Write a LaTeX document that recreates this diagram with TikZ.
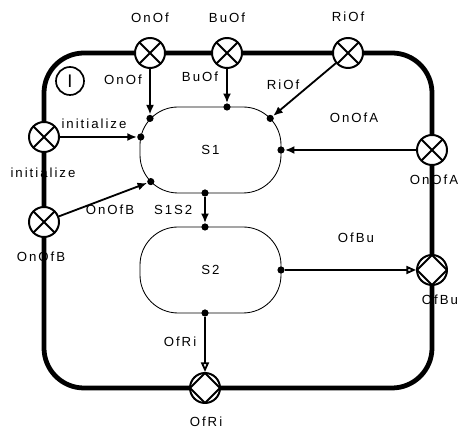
\documentclass[tikz,border=0pt]{standalone}
\usepackage{fontspec}
\setmainfont[LetterSpace=15]{Liberation Sans}
\usetikzlibrary{positioning,arrows.meta}
\tikzset{
  framebox/.style={draw, rounded corners=1cm, line width=3.4pt, minimum width=9.7cm, minimum height=8.375cm},
  statebox/.style={draw, rounded corners=0.95cm, line width=0.6pt, minimum width=3.525cm, minimum height=2.15cm, font=\fontsize{9.4}{11}\selectfont},
  portx/.style={draw, circle, line width=1.4pt, fill=white, minimum size=0.75cm, inner sep=0pt,
    path picture={\draw[line width=1.4pt] (path picture bounding box.north west) -- (path picture bounding box.south east)
      (path picture bounding box.north east) -- (path picture bounding box.south west);}},
  portd/.style={draw, circle, line width=1.4pt, fill=white, minimum size=0.75cm, inner sep=0pt,
    path picture={\draw[line width=1.4pt] (path picture bounding box.north) -- (path picture bounding box.east)
      -- (path picture bounding box.south) -- (path picture bounding box.west) -- cycle;}},
  dotnode/.style={circle, fill, inner sep=0pt, minimum size=0.18cm},
  inarrow/.style={-{Latex[length=2.4mm, width=2mm]}, line width=1.3pt},
  outarrow/.style={-{Triangle[open, length=2.4mm, width=2mm]}, line width=1.3pt},
  lbl/.style={font=\fontsize{9.4}{11}\selectfont, inner sep=1pt},
  initmark/.style={draw, circle, line width=1.2pt, minimum size=0.7cm, inner sep=0pt, font=\fontsize{13}{14}\selectfont}
}

\begin{document}
\begin{tikzpicture}
      \useasboundingbox (0,0) rectangle (11.55,10.75);
      \node[framebox] (blk) at (5.95,5.2375) {};
      \node[initmark] (init) at (1.75,8.725) {I};
      % states
      \node[statebox] (s1) at (5.2625,7.0) {S1};
      \node[statebox] (s2) at (5.2625,4.0) {S2};
      % ports on the frame
      \node[portx] (onof) at (3.75,9.425) {};
      \node[portx] (buof) at (5.675,9.425) {};
      \node[portx] (riof) at (8.7,9.425) {};
      \node[portx] (initp) at (1.1,7.325) {};
      \node[portx] (onofb) at (1.1,5.2) {};
      \node[portx] (onofa) at (10.8,7.0) {};
      \node[portd] (ofbu) at (10.8,4.0) {};
      \node[portd] (ofri) at (5.125,1.05) {};
      % junction dots
      \node[dotnode] (d1) at (3.75,7.79) {};
      \node[dotnode] (d2) at (5.675,8.075) {};
      \node[dotnode] (d3) at (6.755,7.79) {};
      \node[dotnode] (d4) at (3.52,7.325) {};
      \node[dotnode] (d5) at (3.77,6.21) {};
      \node[dotnode] (d6) at (7.025,7.0) {};
      \node[dotnode] (d7) at (5.125,5.925) {};
      \node[dotnode] (d8) at (5.125,5.075) {};
      \node[dotnode] (d9) at (5.125,2.925) {};
      \node[dotnode] (d10) at (7.025,4.0) {};
      \draw[inarrow] (onof) -- (d1);
      \draw[inarrow] (buof) -- (d2);
      \draw[inarrow] (riof) -- (d3);
      \draw[inarrow] (initp) -- (d4);
      \draw[inarrow] (onofb) -- (d5);
      \draw[inarrow] (onofa) -- (d6);
      \draw[inarrow] (d7) -- (d8);
      \draw[outarrow] (d10) -- (ofbu);
      \draw[outarrow] (d9) -- (ofri);
      % labels
      \node[lbl] (tonof) at (3.75,10.3) {OnOf};
      \node[lbl] (tbuof) at (5.675,10.3) {BuOf};
      \node[lbl] (triof) at (8.7,10.325) {RiOf};
      \node[lbl] (lonof) at (3.075,8.75) {OnOf};
      \node[lbl] (lbuof) at (5.0,8.825) {BuOf};
      \node[lbl] (lriof) at (7.075,8.625) {RiOf};
      \node[lbl] (lonofa) at (8.85,7.8) {OnOfA};
      \node[lbl] (tonofa) at (10.85,6.25) {OnOfA};
      \node[lbl] (linit) at (2.35,7.65) {initialize};
      \node[lbl] (tinit) at (1.075,6.425) {initialize};
      \node[lbl] (lonofb) at (2.75,5.5) {OnOfB};
      \node[lbl] (tonofb) at (1.025,4.325) {OnOfB};
      \node[lbl] (ls1s2) at (4.33,5.5) {S1S2};
      \node[lbl] (lofbu) at (8.9,4.8) {OfBu};
      \node[lbl] (tofbu) at (11.0,3.25) {OfBu};
      \node[lbl] (lofri) at (4.5,2.2) {OfRi};
      \node[lbl] (tofri) at (5.15,0.2) {OfRi};
    \end{tikzpicture}
\end{document}
